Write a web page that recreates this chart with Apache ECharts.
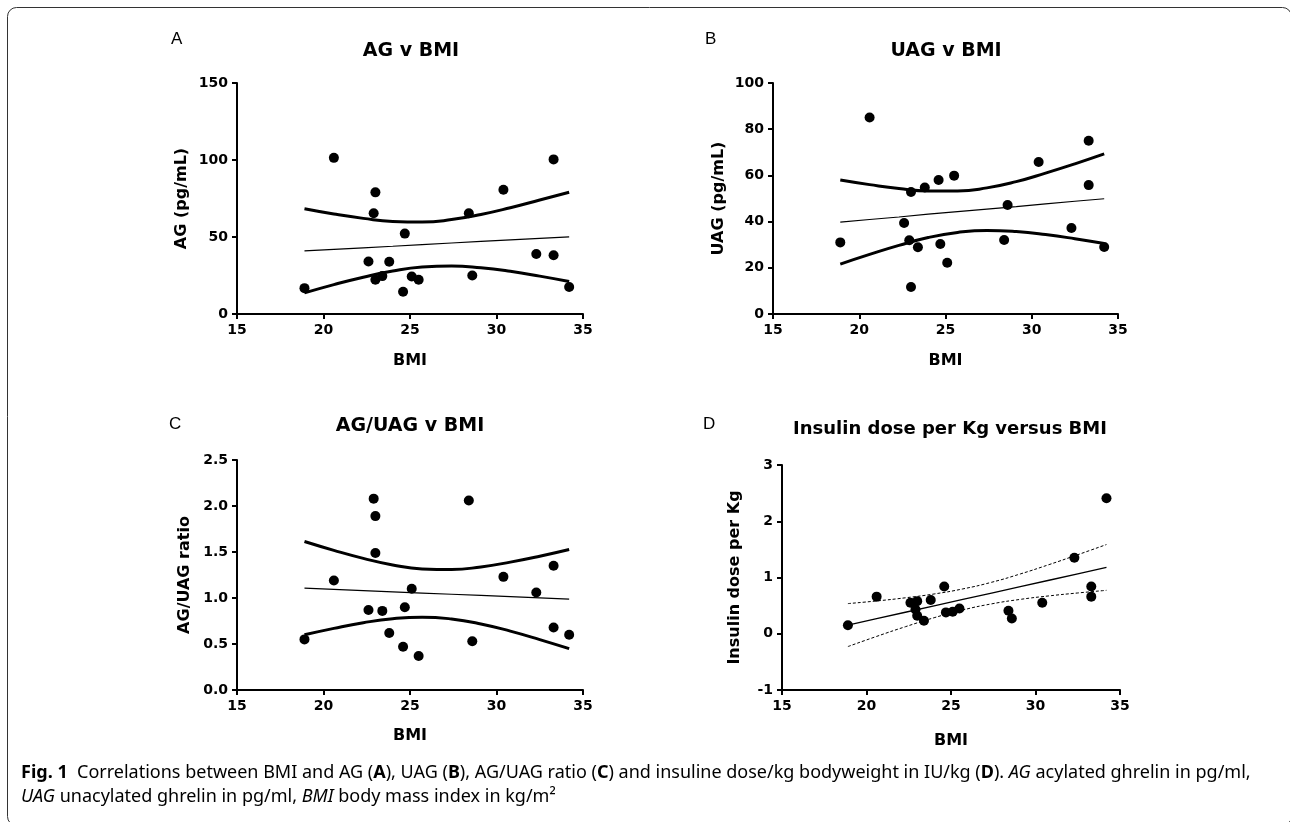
<!DOCTYPE html>
<html>
<head>
<meta charset="utf-8">
<script src="https://cdn.jsdelivr.net/npm/echarts@6/dist/echarts.min.js"></script>
<style>
  html, body { margin: 0; padding: 0; background: #fff; }
  #chart { width: 1290px; height: 822px; }
</style>
</head>
<body>
<div id="chart"></div>
<script>
// BMI of each patient (shared x values of the four panels)
const bmi = [18.9, 20.6, 22.6, 22.9, 23.0, 23.0, 23.4, 23.8, 24.6, 24.7, 25.1, 25.5, 28.4, 28.6, 30.4, 32.3, 33.3, 33.3, 34.2]
const agValues = [16.8, 101.4, 34.1, 65.4, 79.0, 22.2, 24.6, 33.9, 14.5, 52.2, 24.4, 22.2, 65.4, 25.0, 80.7, 39.0, 38.2, 100.4, 17.5]
const uagValues = [31.0, 85.1, 39.4, 31.9, 52.8, 11.7, 28.9, 54.8, 58.0, 30.3, 22.2, 59.9, 32.0, 47.2, 65.8, 37.2, 75.0, 55.8, 29.0]
const ratioValues = [0.55, 1.19, 0.87, 2.08, 1.49, 1.89, 0.86, 0.62, 0.47, 0.90, 1.10, 0.37, 2.06, 0.53, 1.23, 1.06, 0.68, 1.35, 0.60]
const insulinValues = [0.15, 0.66, 0.55, 0.43, 0.58, 0.32, 0.23, 0.60, 0.84, 0.38, 0.39, 0.45, 0.41, 0.27, 0.55, 1.35, 0.84, 0.66, 2.41]

// regression line and 95% bands at these BMI values
const fitX = [18.9, 20.6, 22.3, 24.0, 25.7, 27.4, 29.1, 30.8, 32.5, 34.2]
const agFit = [41.0, 42.0, 43.0, 44.0, 45.1, 46.1, 47.1, 48.1, 49.1, 50.1]
const agUpper = [68.3, 64.9, 62.1, 60.1, 59.7, 61.3, 64.6, 69.0, 74.0, 79.1]
const agLower = [13.7, 19.1, 23.9, 27.9, 30.5, 31.2, 30.0, 27.7, 24.6, 21.1]
const uagFit = [39.8, 40.9, 42.0, 43.2, 44.3, 45.4, 46.5, 47.7, 48.8, 49.9]
const uagUpper = [58.0, 56.0, 54.3, 53.3, 53.3, 54.6, 57.3, 61.0, 65.0, 69.3]
const uagLower = [21.6, 25.8, 29.7, 33.1, 35.3, 36.2, 35.7, 34.4, 32.6, 30.5]
const ratioFit = [1.107, 1.094, 1.081, 1.067, 1.054, 1.041, 1.028, 1.015, 1.001, 0.988]
const ratioUpper = [1.614, 1.518, 1.431, 1.359, 1.316, 1.310, 1.338, 1.390, 1.454, 1.527]
const ratioLower = [0.600, 0.670, 0.731, 0.775, 0.792, 0.772, 0.718, 0.640, 0.548, 0.449]
const insulinFit = [0.154, 0.268, 0.382, 0.496, 0.610, 0.723, 0.837, 0.951, 1.065, 1.179]
const insulinUpper = [0.536, 0.583, 0.639, 0.707, 0.797, 0.915, 1.063, 1.229, 1.405, 1.586]
const insulinLower = [-0.228, -0.047, 0.125, 0.285, 0.423, 0.531, 0.611, 0.673, 0.725, 0.772]

const panelTitles = ['AG v BMI', 'UAG v BMI', 'AG/UAG v BMI', 'Insulin dose per Kg versus BMI']
const yNames = ['AG (pg/mL)', 'UAG (pg/mL)', 'AG/UAG ratio', 'Insulin dose per Kg']
const panelLetters = ['A', 'B', 'C', 'D']
const yRanges = [[0, 150, 50], [0, 100, 20], [0, 2.5, 0.5], [-1, 3, 1]]

const FONT = 'DejaVu Sans'
const grids = [
  { left: 237, top: 83, width: 346, height: 231 },
  { left: 773, top: 83, width: 345, height: 231 },
  { left: 237, top: 460, width: 346, height: 230 },
  { left: 782, top: 465, width: 338, height: 225 }
]
const xNameGap = [39, 39, 38, 43]
const yNameGap = [47, 46, 44, 39]

function pairs(xs, ys) {
  return xs.map((x, i) => [x, ys[i]])
}

const axisBase = {
  axisLine: { show: true, onZero: false, lineStyle: { color: '#000', width: 2 } },
  axisTick: { show: true, length: 5, lineStyle: { color: '#000', width: 2 } },
  splitLine: { show: false },
  nameTextStyle: { color: '#000', fontFamily: FONT, fontWeight: 'bold', fontSize: 16 }
}

const xAxis = grids.map((g, i) => ({
  ...axisBase,
  type: 'value',
  gridIndex: i,
  min: 15,
  max: 35,
  interval: 5,
  name: 'BMI',
  nameLocation: 'middle',
  nameGap: xNameGap[i],
  axisLabel: { color: '#000', fontFamily: FONT, fontWeight: 'bold', fontSize: 14, margin: 9 }
}))

const yAxis = grids.map((g, i) => ({
  ...axisBase,
  type: 'value',
  gridIndex: i,
  min: yRanges[i][0],
  max: yRanges[i][1],
  interval: yRanges[i][2],
  name: yNames[i],
  nameLocation: 'middle',
  nameGap: yNameGap[i],
  axisLabel: {
    color: '#000', fontFamily: FONT, fontWeight: 'bold', fontSize: 14, margin: 9,
    formatter: i === 2 ? v => v.toFixed(1) : v => String(v)
  }
}))

const panels = [
  [agValues, agFit, agUpper, agLower],
  [uagValues, uagFit, uagUpper, uagLower],
  [ratioValues, ratioFit, ratioUpper, ratioLower],
  [insulinValues, insulinFit, insulinUpper, insulinLower]
]

const series = []
panels.forEach((p, i) => {
  const dotted = i === 3
  const bandStyle = dotted
    ? { color: '#000', width: 1, type: [3, 2] }
    : { color: '#000', width: 3 }
  series.push({
    type: 'line', xAxisIndex: i, yAxisIndex: i, data: pairs(fitX, p[1]),
    symbol: 'none', lineStyle: { color: '#000', width: dotted ? 1.4 : 1.2 }, silent: true
  })
  series.push({
    type: 'line', xAxisIndex: i, yAxisIndex: i, data: pairs(fitX, p[2]),
    symbol: 'none', smooth: 0.5, lineStyle: bandStyle, silent: true
  })
  series.push({
    type: 'line', xAxisIndex: i, yAxisIndex: i, data: pairs(fitX, p[3]),
    symbol: 'none', smooth: 0.5, lineStyle: bandStyle, silent: true
  })
  series.push({
    type: 'scatter', xAxisIndex: i, yAxisIndex: i, data: pairs(bmi, p[0]),
    symbol: 'circle', symbolSize: 10, itemStyle: { color: '#000', opacity: 1 }, z: 5
  })
})

const titlePos = [[411, 51], [946, 51], [410, 426], [950, 429]]
const letterPos = [[171, 39], [705, 39], [169, 424], [703, 424]]

const graphic = [
  {
    type: 'rect', silent: true,
    shape: { x: 7.5, y: 7.5, width: 1284, height: 818, r: 9 },
    style: { fill: null, stroke: '#333', lineWidth: 1 }
  }
]
panelTitles.forEach((t, i) => {
  graphic.push({
    type: 'text', x: titlePos[i][0], y: titlePos[i][1],
    style: {
      text: t, fill: '#000', font: 'bold ' + (i === 3 ? 18 : 19) + 'px "' + FONT + '"',
      align: 'center', verticalAlign: 'middle'
    }
  })
  graphic.push({
    type: 'text', x: letterPos[i][0], y: letterPos[i][1],
    style: {
      text: panelLetters[i], fill: '#000', font: '17px "Liberation Sans"',
      align: 'left', verticalAlign: 'middle'
    }
  })
})

const capFont = 'Noto Sans'
const capSize = 18
const capRich = {
  n: { fontFamily: capFont, fontSize: capSize, color: '#222' },
  b: { fontFamily: capFont, fontSize: capSize, fontWeight: 'bold', color: '#222' },
  i: { fontFamily: capFont, fontSize: capSize, fontStyle: 'italic', color: '#222' }
}
graphic.push({
  type: 'text', x: 21, y: 773,
  style: {
    text: '{b|Fig. 1}{n|  Correlations between BMI and AG (}{b|A}{n|), UAG (}{b|B}{n|), AG/UAG ratio (}{b|C}{n|) and insuline dose/kg bodyweight in IU/kg (}{b|D}{n|). }{i|AG}{n| acylated ghrelin in pg/ml,}',
    rich: capRich, verticalAlign: 'middle'
  }
})
graphic.push({
  type: 'text', x: 21, y: 797,
  style: {
    text: '{i|UAG}{n| unacylated ghrelin in pg/ml, }{i|BMI}{n| body mass index in kg/m²}',
    rich: capRich, verticalAlign: 'middle'
  }
})

const myChart = echarts.init(document.getElementById('chart'))
myChart.setOption({
  animation: false,
  backgroundColor: '#fff',
  grid: grids,
  xAxis: xAxis,
  yAxis: yAxis,
  series: series,
  graphic: graphic
})
</script>
</body>
</html>
